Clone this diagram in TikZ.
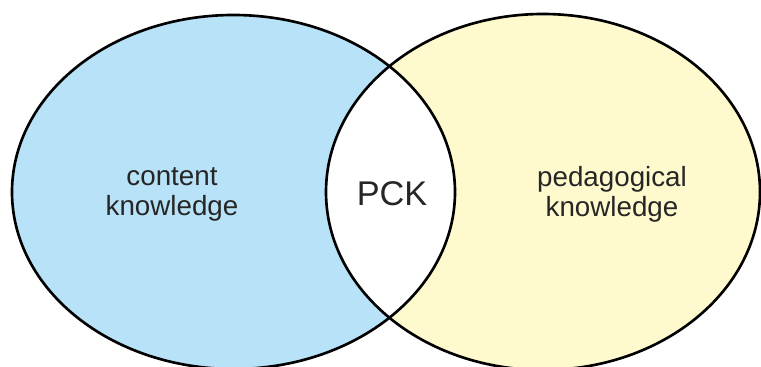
\documentclass[tikz,border=0pt]{standalone}
\usepackage{fontspec}
\setmainfont{Liberation Sans}
\usepackage{tikz}

\definecolor{contentblue}{RGB}{184,226,247}
\definecolor{pedyellow}{RGB}{255,250,206}

\begin{document}
\begin{tikzpicture}[every node/.style={align=center, text=black!85, outer sep=0pt},
    label text/.style={font=\fontsize{15.8}{17}\selectfont},
    venn line/.style={draw=black, line width=1.5pt}]
\useasboundingbox (0,0) rectangle (15.22,7.34);

\coordinate (ck) at (4.67,3.5);
\coordinate (pk) at (10.86,3.5);

\fill[contentblue] (ck) ellipse [x radius=4.43, y radius=3.54];
\fill[pedyellow] (pk) ellipse [x radius=4.34, y radius=3.56];
\begin{scope}
\clip (ck) ellipse [x radius=4.43, y radius=3.54];
\fill[white] (pk) ellipse [x radius=4.34, y radius=3.56];
\end{scope}

\draw[venn line] (ck) ellipse [x radius=4.43, y radius=3.54];
\draw[venn line] (pk) ellipse [x radius=4.34, y radius=3.56];

\node[label text] (content) at (3.44,3.46) {content\\knowledge};
\node[font=\fontsize{19.5}{20}\selectfont] (pck) at (7.84,3.46) {PCK};
\node[label text] (pedagogy) at (12.24,3.46) {pedagogical\\knowledge};
\end{tikzpicture}
\end{document}
